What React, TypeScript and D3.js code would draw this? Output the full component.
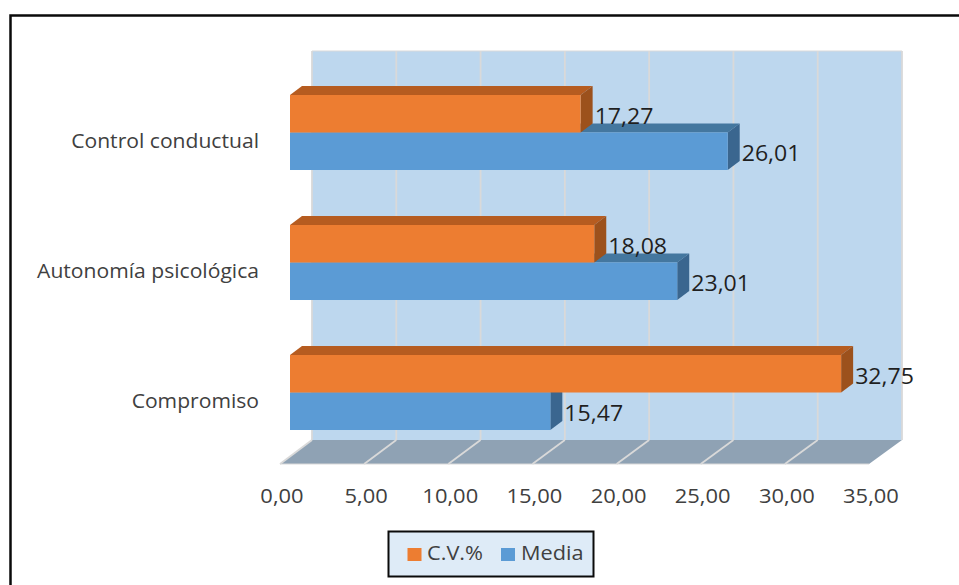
import React from "react";
import * as d3 from "d3";

const categories = ["Control conductual", "Autonomía psicológica", "Compromiso"];
const seriesNames = ["C.V.%", "Media"];
const cvValues = [17.27, 18.08, 32.75];
const mediaValues = [26.01, 23.01, 15.47];
const ticks = [0, 5, 10, 15, 20, 25, 30, 35];

const W = 959, H = 585;
const FONT = "'Open Sans', sans-serif";
const fmt = (v: number) => v.toFixed(2).replace(".", ",");

// front plane of the floor
const xFloor = d3.scaleLinear().domain([0, 35]).range([280, 869]);
// bars sit a little behind the front of the floor
const xBar = d3.scaleLinear().domain([0, 35]).range([290, 879]);
// back wall
const xWall = d3.scaleLinear().domain([0, 35]).range([312, 902]);
const yGroup = d3.scaleBand<string>().domain(categories).range([67.5, 457.5]).paddingInner(0.423).paddingOuter(0.2115);
const ySeries = d3.scaleBand<string>().domain(seriesNames).range([0, yGroup.bandwidth()]);

const WALL_TOP = 51, WALL_BOTTOM = 440, FLOOR_FRONT = 464;
const DX = 12, DY = 9;

const colors: Record<string, { front: string; top: string; side: string }> = {
  "C.V.%": { front: "#ed7d31", top: "#b65c20", side: "#9c511c" },
  Media: { front: "#5b9bd5", top: "#44779f", side: "#3a668f" },
};

function Bar({ cat, name, value }: { cat: string; name: string; value: number }) {
  const y0 = (yGroup(cat) as number) + (ySeries(name) as number);
  const h = ySeries.bandwidth();
  const x0 = xBar(0);
  const x1 = xBar(value);
  const c = colors[name];
  const poly = (pts: number[][]) => pts.map((p) => p.join(",")).join(" ");
  return (
    <g>
      <polygon fill={c.top} points={poly([[x0, y0], [x0 + DX, y0 - DY], [x1 + DX, y0 - DY], [x1, y0]])} />
      <polygon fill={c.side} points={poly([[x1, y0], [x1 + DX, y0 - DY], [x1 + DX, y0 + h - DY], [x1, y0 + h]])} />
      <rect x={x0} y={y0} width={x1 - x0} height={h} fill={c.front} />
    </g>
  );
}

function Label({ x, y, sx, anchor, fill, size, children }: any) {
  return (
    <text transform={`translate(${x},${y}) scale(${sx},1)`} textAnchor={anchor} fill={fill} fontSize={size}>
      {children}
    </text>
  );
}

export default function App() {
  const marks = seriesNames
    .slice()
    .reverse()
    .flatMap((name) =>
      categories.map((cat, i) => ({
        cat,
        name,
        value: name === "Media" ? mediaValues[i] : cvValues[i],
      }))
    );
  return (
    <svg width={W} height={H} viewBox={`0 0 ${W} ${H}`} style={{ position: "absolute", left: 0, top: 0, background: "#fff" }}>
      <path d={`M10.5 585V15.5H959`} fill="none" stroke="#0a0a0a" strokeWidth={2.5} />
      <rect x={xWall(0)} y={WALL_TOP} width={xWall(35) - xWall(0)} height={WALL_BOTTOM - WALL_TOP} fill="#bdd7ee" />
      <polygon
        fill="#8fa2b4"
        points={`${xWall(0)},${WALL_BOTTOM} ${xWall(35)},${WALL_BOTTOM} ${xFloor(35)},${FLOOR_FRONT} ${xFloor(0)},${FLOOR_FRONT}`}
      />
      {ticks.map((t) => (
        <g key={t} stroke="#d9d9d9" strokeWidth={1.8}>
          <line x1={xWall(t)} x2={xWall(t)} y1={WALL_TOP} y2={WALL_BOTTOM} />
          {t < 35 && <line x1={xWall(t)} x2={xFloor(t)} y1={WALL_BOTTOM} y2={FLOOR_FRONT} />}
        </g>
      ))}
      <line x1={xWall(0)} x2={xWall(35)} y1={WALL_TOP} y2={WALL_TOP} stroke="#d9d9d9" />
      <line x1={xFloor(0)} x2={xFloor(35)} y1={FLOOR_FRONT} y2={FLOOR_FRONT} stroke="#d9d9d9" />
      {marks.map((m) => (
        <Bar key={m.cat + m.name} {...m} />
      ))}
      <g fontFamily={FONT}>
        {ticks.map((t) => (
          <Label key={t} x={xFloor(t) + 2} y={503} sx={1.07} anchor="middle" fill="#404040" size={20.5}>
            {fmt(t)}
          </Label>
        ))}
        {categories.map((c) => (
          <Label key={c} x={259} y={(yGroup(c) as number) + yGroup.bandwidth() / 2 + 15} sx={1.03} anchor="end" fill="#404040" size={20.5}>
            {c}
          </Label>
        ))}
        {marks.map((m) => (
          <Label
            key={m.cat + m.name}
            x={xBar(m.value) + 14}
            y={(yGroup(m.cat) as number) + (ySeries(m.name) as number) + ySeries.bandwidth() - 9}
            sx={1.1}
            anchor="start"
            fill="#1f1f1f"
            size={21}
          >
            {fmt(m.value)}
          </Label>
        ))}
      </g>
      <rect x={388.5} y={531.5} width={205} height={45} fill="#deebf7" stroke="#0a0a0a" strokeWidth={2} />
      <rect x={407.5} y={548} width={14} height={13} fill={colors["C.V.%"].front} />
      <rect x={501} y={548} width={14} height={13} fill={colors.Media.front} />
      <g fontFamily={FONT}>
        <Label x={427} y={560} sx={1.06} anchor="start" fill="#404040" size={20.5}>{seriesNames[0]}</Label>
        <Label x={521} y={560} sx={1.06} anchor="start" fill="#404040" size={20.5}>{seriesNames[1]}</Label>
      </g>
    </svg>
  );
}
